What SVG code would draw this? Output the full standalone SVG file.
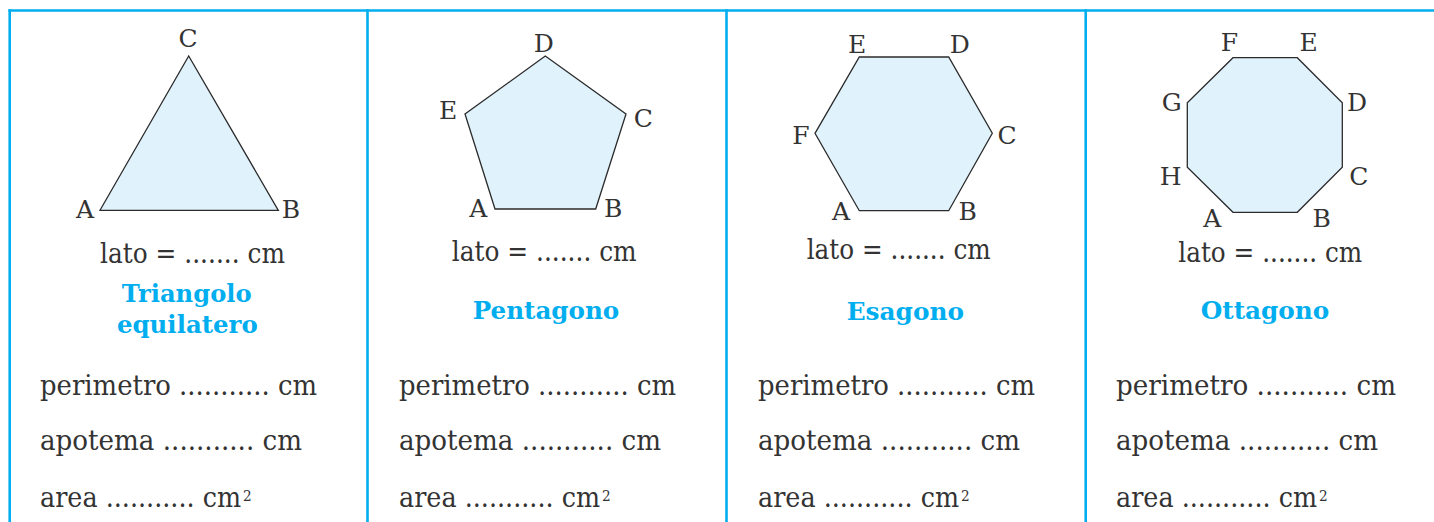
<svg xmlns="http://www.w3.org/2000/svg" width="1434" height="522" viewBox="0 0 1434 522">
<style>
.grid{stroke:#00aeef;stroke-width:2.6;fill:none}
.shape{fill:#e0f2fc;stroke:#2b2b2b;stroke-width:1.3;stroke-linejoin:miter}
.lbl{font-family:"DejaVu Serif","Liberation Serif",serif;font-size:25px;fill:#333;text-anchor:middle}
.body{font-family:"DejaVu Serif","Liberation Serif",serif;font-size:28px;fill:#333}
.lato{font-family:"DejaVu Serif","Liberation Serif",serif;font-size:27px;fill:#333}
.sup{font-size:15px}
.title{font-family:"DejaVu Serif","Liberation Serif",serif;font-size:25px;font-weight:bold;fill:#00aeef}
</style>
<rect width="1434" height="522" fill="#ffffff"/>
<g id="grid">
<line class="grid" x1="8.4" y1="10.5" x2="1434" y2="10.5"/>
<line class="grid" x1="9.7" y1="9.2" x2="9.7" y2="522"/>
<line class="grid" x1="367.5" y1="9.2" x2="367.5" y2="522"/>
<line class="grid" x1="726.5" y1="9.2" x2="726.5" y2="522"/>
<line class="grid" x1="1085.7" y1="9.2" x2="1085.7" y2="522"/>
</g>
<g id="connectors"></g>
<g id="triangolo">
<polygon class="shape" points="100,210.3 278.3,210.3 188.7,56"/>
<text class="lbl" x="85" y="218.3">A</text>
<text class="lbl" x="291" y="218.3">B</text>
<text class="lbl" x="188" y="46.5">C</text>
<text class="lato" x="100" y="263.3" textLength="185" lengthAdjust="spacingAndGlyphs">lato = ....... cm</text>
<text class="title" x="121.7" y="301.7" textLength="130" lengthAdjust="spacingAndGlyphs">Triangolo</text>
<text class="title" x="117" y="333.3" textLength="140.7" lengthAdjust="spacingAndGlyphs">equilatero</text>
<text class="body" x="40" y="395" textLength="277" lengthAdjust="spacingAndGlyphs">perimetro ........... cm</text>
<text class="body" x="40" y="450" textLength="262" lengthAdjust="spacingAndGlyphs">apotema ........... cm</text>
<text class="body" transform="translate(40 506.5) scale(0.909 1)">area ........... cm<tspan class="sup" dx="2" dy="-6">2</tspan></text>
</g>
<g id="pentagono">
<polygon class="shape" points="495,209 595.7,209 626,114 545.3,56 465,114"/>
<text class="lbl" x="478.3" y="216.7">A</text>
<text class="lbl" x="613.3" y="216.7">B</text>
<text class="lbl" x="643.3" y="126.7">C</text>
<text class="lbl" x="543.7" y="51.7">D</text>
<text class="lbl" x="448" y="119.3">E</text>
<text class="lato" x="451.7" y="261" textLength="185" lengthAdjust="spacingAndGlyphs">lato = ....... cm</text>
<text class="title" x="472.7" y="319.3" textLength="146.6" lengthAdjust="spacingAndGlyphs">Pentagono</text>
<text class="body" x="399" y="395" textLength="277" lengthAdjust="spacingAndGlyphs">perimetro ........... cm</text>
<text class="body" x="399" y="450" textLength="262" lengthAdjust="spacingAndGlyphs">apotema ........... cm</text>
<text class="body" transform="translate(399 506.5) scale(0.909 1)">area ........... cm<tspan class="sup" dx="2" dy="-6">2</tspan></text>
</g>
<g id="esagono">
<polygon class="shape" points="859.3,210.7 948.7,210.7 992.3,133.3 948.7,57 859.3,57 815,133.3"/>
<text class="lbl" x="841" y="220">A</text>
<text class="lbl" x="967.7" y="220">B</text>
<text class="lbl" x="1007" y="144">C</text>
<text class="lbl" x="959.7" y="53.3">D</text>
<text class="lbl" x="857" y="53.3">E</text>
<text class="lbl" x="801" y="144">F</text>
<text class="lato" x="806.7" y="259.3" textLength="184" lengthAdjust="spacingAndGlyphs">lato = ....... cm</text>
<text class="title" x="846.7" y="320" textLength="117.3" lengthAdjust="spacingAndGlyphs">Esagono</text>
<text class="body" x="758" y="395" textLength="277" lengthAdjust="spacingAndGlyphs">perimetro ........... cm</text>
<text class="body" x="758" y="450" textLength="262" lengthAdjust="spacingAndGlyphs">apotema ........... cm</text>
<text class="body" transform="translate(758 506.5) scale(0.909 1)">area ........... cm<tspan class="sup" dx="2" dy="-6">2</tspan></text>
</g>
<g id="ottagono">
<polygon class="shape" points="1233,212.3 1297.3,212.3 1342.3,167.3 1342.3,102.7 1297.3,57.7 1233,57.7 1187.3,102.7 1187.3,167.3"/>
<text class="lbl" x="1212.2" y="226.7">A</text>
<text class="lbl" x="1321.7" y="226.7">B</text>
<text class="lbl" x="1358.7" y="185">C</text>
<text class="lbl" x="1357" y="111">D</text>
<text class="lbl" x="1308.7" y="51">E</text>
<text class="lbl" x="1229.5" y="51">F</text>
<text class="lbl" x="1171.7" y="111">G</text>
<text class="lbl" x="1170.7" y="185">H</text>
<text class="lato" x="1178.3" y="262.3" textLength="184" lengthAdjust="spacingAndGlyphs">lato = ....... cm</text>
<text class="title" x="1200.7" y="319.3" textLength="128.6" lengthAdjust="spacingAndGlyphs">Ottagono</text>
<text class="body" x="1116" y="395" textLength="280" lengthAdjust="spacingAndGlyphs">perimetro ........... cm</text>
<text class="body" x="1116" y="450" textLength="262" lengthAdjust="spacingAndGlyphs">apotema ........... cm</text>
<text class="body" transform="translate(1116 506.5) scale(0.909 1)">area ........... cm<tspan class="sup" dx="2" dy="-6">2</tspan></text>
</g>
</svg>
